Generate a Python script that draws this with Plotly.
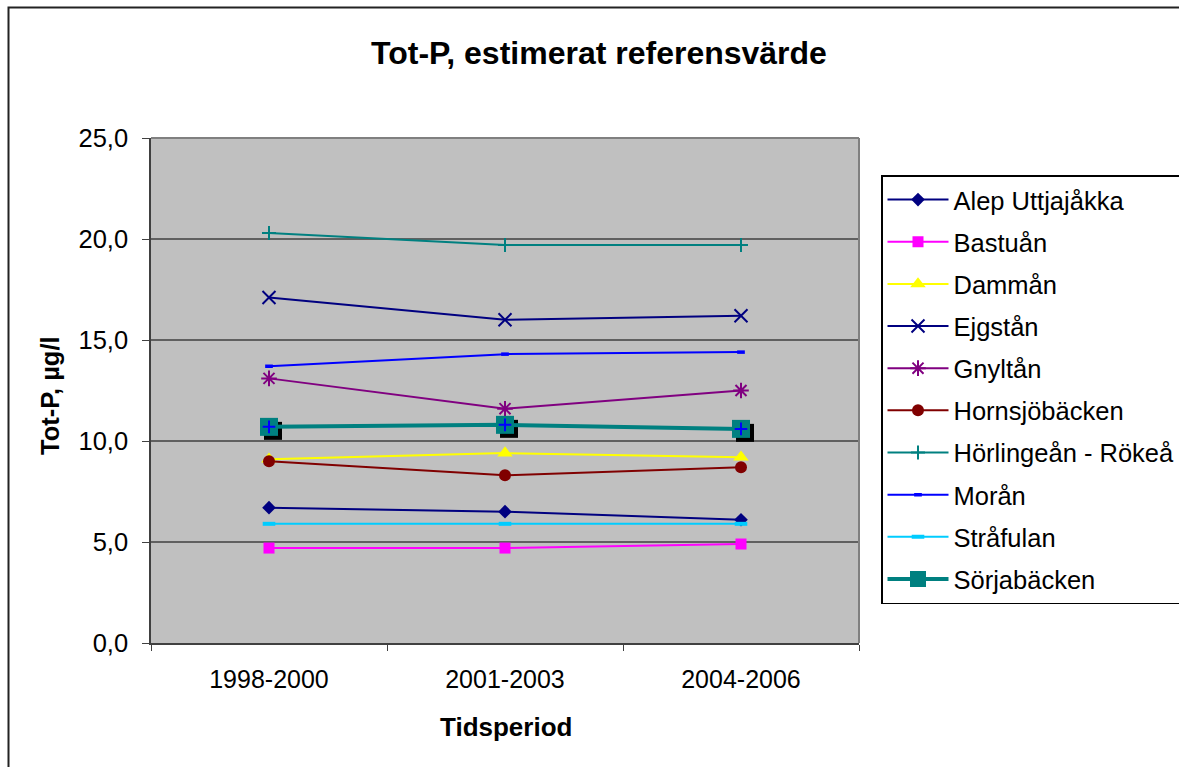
import plotly.graph_objects as go

# Periods and estimated reference values of total phosphorus (µg/l)
periods = ["1998-2000", "2001-2003", "2004-2006"]

alep_uttjajakka = [6.7, 6.5, 6.1]
bastuan = [4.7, 4.7, 4.9]
damman = [9.1, 9.4, 9.2]
ejgstan = [17.1, 16.0, 16.2]
gnyltan = [13.1, 11.6, 12.5]
hornsjobacken = [9.0, 8.3, 8.7]
horlingean_rokea = [20.3, 19.7, 19.7]
moran = [13.7, 14.3, 14.4]
strafulan = [5.9, 5.9, 5.9]
sorjabacken = [10.7, 10.8, 10.6]

y_ticks = [0, 5, 10, 15, 20, 25]

FONT = "Liberation Sans, Arial, sans-serif"

fig = go.Figure()


def add_series(name, values, color, symbol, size, width=2, mline=None, filled=True):
    marker = dict(symbol=symbol, size=size, color=color)
    if filled:
        marker["line"] = dict(width=0)
    else:
        marker["line"] = dict(width=mline or 2, color=color)
    fig.add_trace(go.Scatter(
        x=periods, y=values, name=name, mode="lines+markers",
        line=dict(color=color, width=width), marker=marker,
        legendgroup=name,
    ))


add_series("Alep Uttjajåkka", alep_uttjajakka, "#000080", "diamond", 10.5)
add_series("Bastuån", bastuan, "#FF00FF", "square", 11)
add_series("Dammån", damman, "#FFFF00", "triangle-up", 13.5)
add_series("Ejgstån", ejgstan, "#000080", "x-thin", 13, filled=False)
add_series("Gnyltån", gnyltan, "#800080", "asterisk", 13, filled=False)
add_series("Hornsjöbäcken", hornsjobacken, "#800000", "circle", 12)
add_series("Hörlingeån - Rökeå", horlingean_rokea, "#008080", "cross-thin", 10, filled=False)
add_series("Morån", moran, "#0000FF", "line-ew", 5.5, filled=False, mline=3.5)
add_series("Stråfulan", strafulan, "#00CCFF", "line-ew", 9, filled=False, mline=4)

# Sörjabäcken: drop shadow on an axis pair shifted a few pixels right/down,
# then the series itself on an unshifted overlay so it sits on top
fig.add_trace(go.Scatter(
    x=periods, y=sorjabacken, mode="markers", showlegend=False, hoverinfo="skip",
    marker=dict(symbol="square", size=18, color="#000000", line=dict(width=0)),
    xaxis="x2", yaxis="y2",
))
fig.add_trace(go.Scatter(
    x=periods, y=sorjabacken, name="Sörjabäcken", mode="lines+markers",
    line=dict(color="#008080", width=4),
    marker=dict(symbol="square", size=18, color="#008080", line=dict(width=0)),
    legendgroup="Sörjabäcken", xaxis="x3", yaxis="y3",
))
fig.add_trace(go.Scatter(
    x=periods, y=sorjabacken, mode="markers", showlegend=False, hoverinfo="skip",
    marker=dict(symbol="cross-thin", size=9, color="#0000FF",
                line=dict(width=2, color="#0000FF")),
    xaxis="x3", yaxis="y3",
))

L, R, T, B = 151, 320, 138, 124
W, H = 1179, 767
pw, ph = W - L - R, H - T - B
dx = 4 / (pw / 3)      # shadow offset in category units
dy = 4 / (ph / 25)     # shadow offset in value units

fig.update_layout(
    width=W, height=H,
    margin=dict(l=L, r=R, t=T, b=B, autoexpand=False),
    paper_bgcolor="white",
    plot_bgcolor="#C0C0C0",
    separators=", ",
    font=dict(family=FONT, size=25, color="black"),
    showlegend=True,
    legend=dict(
        x=(881 - L) / pw, y=(H - B - 175) / ph, xanchor="left", yanchor="top",
        bordercolor="black", borderwidth=1.5, bgcolor="white",
        font=dict(family=FONT, size=25.5, color="black"),
        tracegroupgap=6, itemwidth=61,
    ),
    xaxis=dict(
        type="category", range=[-0.5, 2.5], showgrid=False, zeroline=False,
        showline=True, linecolor="#404040", linewidth=1.5,
        ticks="outside", tickson="boundaries", ticklen=6, tickcolor="#404040",
        tickfont=dict(size=25), ticklabelstandoff=13,
    ),
    yaxis=dict(
        range=[0, 25], tickvals=y_ticks, tickformat=".1f",
        showgrid=True, gridcolor="#606060", gridwidth=1.5, zeroline=False,
        showline=True, linecolor="#404040", linewidth=1.5,
        ticks="outside", ticklen=7, tickcolor="#404040",
        tickfont=dict(size=25.5), ticklabelstandoff=9,
    ),
    xaxis2=dict(type="category", range=[-0.5 - dx, 2.5 - dx], overlaying="x",
                visible=False, categoryarray=periods),
    yaxis2=dict(range=[dy, 25 + dy], overlaying="y", visible=False),
    xaxis3=dict(type="category", range=[-0.5, 2.5], overlaying="x",
                visible=False, categoryarray=periods),
    yaxis3=dict(range=[0, 25], overlaying="y", visible=False),
    shapes=[
        # plot area border (top/right)
        dict(type="line", xref="paper", yref="paper", x0=0, x1=1, y0=1, y1=1,
             line=dict(color="#808080", width=2)),
        dict(type="line", xref="paper", yref="paper", x0=1, x1=1, y0=0, y1=1,
             line=dict(color="#808080", width=2)),
        # chart frame
        dict(type="rect", xref="paper", yref="paper",
             x0=(8.5 - L) / pw, x1=1.6, y0=-0.6, y1=(H - B - 7.5) / ph,
             line=dict(color="#222222", width=2), fillcolor="rgba(0,0,0,0)",
             layer="below"),
    ],
    annotations=[
        dict(text="<b>Tot-P, estimerat referensvärde</b>", xref="paper", yref="paper",
             x=(599 - L) / pw, y=(H - B - 53) / ph, xanchor="center", yanchor="middle",
             showarrow=False, font=dict(size=32)),
        dict(text="<b>Tot-P, µg/l</b>", xref="paper", yref="paper",
             x=(50 - L) / pw, y=(H - B - 396) / ph, xanchor="center", yanchor="middle",
             textangle=-90, showarrow=False, font=dict(size=25.5)),
        dict(text="<b>Tidsperiod</b>", xref="paper", yref="paper",
             x=(506 - L) / pw, y=(H - B - 727) / ph, xanchor="center", yanchor="middle",
             showarrow=False, font=dict(size=26)),
    ],
)

fig.write_html("out.html")
